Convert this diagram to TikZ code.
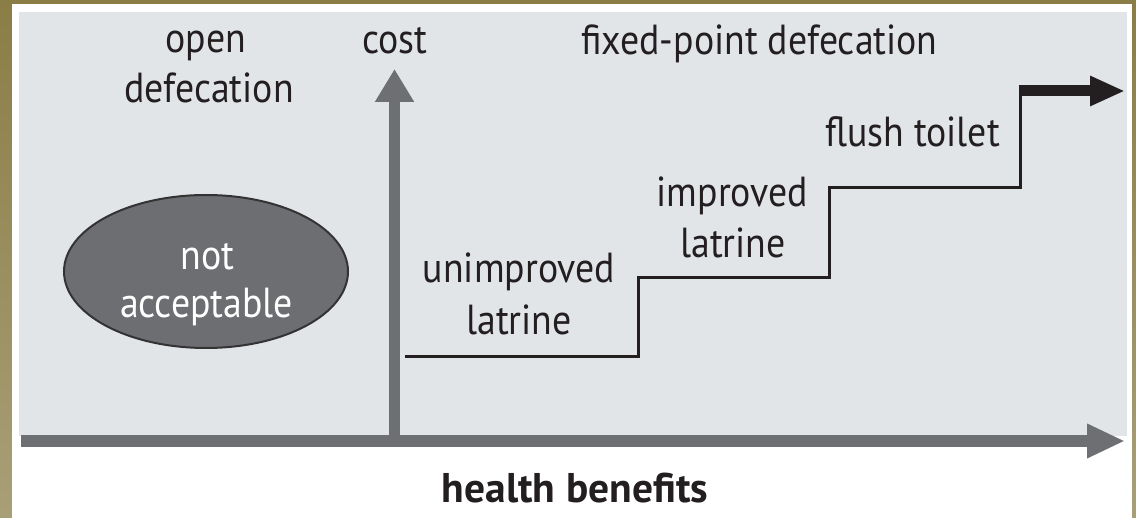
\documentclass[tikz,border=0pt]{standalone}
\usepackage{fontspec}
\setmainfont{PT Sans}
\newfontfamily\condfont[FakeStretch=0.9]{PT Sans}
\usetikzlibrary{arrows.meta,shapes.geometric}
\definecolor{olivetop}{HTML}{8A7D46}
\definecolor{olivebot}{HTML}{A99F77}
\definecolor{panel}{HTML}{E2E5E8}
\definecolor{axisgray}{HTML}{6E6F73}
\definecolor{ink}{HTML}{231F20}
\definecolor{ellfill}{HTML}{6D6E71}
\begin{document}
\begin{tikzpicture}[x=1pt,y=-1pt,
  lbl/.style={font=\condfont\fontsize{42}{48}\selectfont, text=ink, anchor=base, inner sep=0pt},
  wlbl/.style={lbl, text=white},
  axisline/.style={draw=axisgray, line width=12pt, -{Triangle[length=38pt,width=32pt]}},
  costline/.style={draw=axisgray, line width=11pt, -{Triangle[length=33pt,width=37pt]}},
  stairline/.style={draw=ink, line width=3pt, line join=miter},
  stairarrow/.style={draw=ink, line width=11pt, -{Triangle[length=35pt,width=28pt]}},
  blob/.style={ellipse, fill=ellfill, draw=black!80, line width=2pt, minimum width=284pt, minimum height=153pt, inner sep=0pt}
]
\useasboundingbox (0,0) rectangle (1136,518);
\shade[top color=olivetop, bottom color=olivebot] (0,0) rectangle (1136,518);
\fill[white] (12,4) rectangle (1132,518);
\fill[panel] (19,12) rectangle (1127,436);

% axes
\coordinate (xo) at (21,441);
\coordinate (xe) at (1125,441);
\draw[axisline] (xo) -- (xe);
\coordinate (co) at (394.5,441);
\coordinate (ce) at (394.5,69);
\draw[costline] (co) -- (ce);

% staircase
\coordinate (s0) at (405,357);
\coordinate (s1) at (638,278);
\coordinate (s2) at (829,188);
\coordinate (s3) at (1020,86);
\coordinate (a0) at (1018.5,91);
\coordinate (a1) at (1125,91);
\draw[stairline] (s0) -| (s1) -| (s2) -| (s3);
\draw[stairarrow] (a0) -- (a1);

% ellipse
\node[blob] (na) at (206,271.5) {};
\node[wlbl] (na1) at (207.5,270) {not};
\node[wlbl] (na2) at (206.5,318) {acceptable};

% labels
\node[lbl] (od1) at (206,53) {open};
\node[lbl] (od2) at (209,103) {defecation};
\node[lbl] (cost) at (395,54) {cost};
\node[lbl] (fpd) at (759.5,55) {fixed-point defecation};
\node[lbl] (ft) at (912.5,147) {flush toilet};
\node[lbl] (il1) at (732.5,207) {improved};
\node[lbl] (il2) at (733,258) {latrine};
\node[lbl] (ul1) at (519,283) {unimproved};
\node[lbl] (ul2) at (519,335) {latrine};
\node[lbl, font=\fontsize{41.5}{46}\selectfont\bfseries] (hb) at (575,503) {health benefits};
\end{tikzpicture}
\end{document}
